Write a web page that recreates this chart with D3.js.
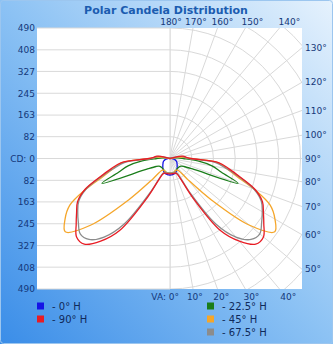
<!DOCTYPE html>
<html>
<head>
<meta charset="utf-8">
<script src="https://cdn.jsdelivr.net/npm/d3@7/dist/d3.min.js"></script>
<style>
  html, body { margin: 0; padding: 0; background: #fff; }
  svg { display: block; }
  text { font-family: "DejaVu Sans", Verdana, sans-serif; }
</style>
</head>
<body>
<div id="chart"></div>
<script>
// ---------------- data ----------------
const title = "Polar Candela Distribution";
const vaAngles = [0,5,10,15,20,25,30,35,40,45,50,55,60,65,70,75,80,85,90,95,100,105,110,115,120,125,130,135,140,145,150,155,160,165,170,175,180];
const seriesNames = ["- 0° H", "- 90° H", "- 22.5° H", "- 45° H", "- 67.5° H"];
const seriesColors = ["#1414e6", "#e81c24", "#1a7d1a", "#f5a62a", "#8c8c8c"];
const cd0H   = [62,62,61,60,58,55,50,46,42,38,35,32,30,27,24,20,16,12,8,5,3,0,0,0,0,0,0,0,0,0,0,0,0,0,0,0,0];
const cd90H  = [58,58,58,58,58,65,165,330,405,455,458,430,405,383,340,275,225,185,80,60,50,10,0,0,0,0,0,0,0,0,0,0,0,0,0,0,0];
const cd225H = [55,55,55,54,52,50,48,47,46,46,47,50,60,90,272,200,160,105,50,30,15,0,0,0,0,0,0,0,0,0,0,0,0,0,0,0,0];
const cd45H  = [55,55,55,54,52,50,50,55,100,220,390,480,455,415,335,260,215,180,75,50,25,0,0,0,0,0,0,0,0,0,0,0,0,0,0,0,0];
const cd675H = [55,55,55,55,55,60,140,300,385,430,440,420,400,378,335,270,215,170,70,55,45,10,0,0,0,0,0,0,0,0,0,0,0,0,0,0,0];
const cdTicks = [82,163,245,327,408,490];
const cdMax = 490;
const topAngleLabels = [180,170,160,150,140];
const sideAngleLabels = [130,120,110,100,90,80,70,60,50];
const bottomAngleLabels = [0,10,20,30,40];
const gridAngles = [0,10,20,30,40,50,60,70,80,90,100,110,120,130,140,150,160,170,180];
const gridCircles = [82,163,245,327,408,490,572,653,735];

// ---------------- layout ----------------
const W = 333, H = 344;
const plot = {x0: 37, x1: 302, y0: 28, y1: 289};
const cx = 170, cy = 158.5;
const R = (plot.y1 - plot.y0) / 2;

const svg = d3.select("#chart").append("svg").attr("width", W).attr("height", H);
const defs = svg.append("defs");
const grad = defs.append("linearGradient").attr("id", "bg")
  .attr("x1", 0).attr("y1", 1).attr("x2", 1).attr("y2", 0);
grad.append("stop").attr("offset", "0%").attr("stop-color", "#3a8de8");
grad.append("stop").attr("offset", "50%").attr("stop-color", "#8cc2f4");
grad.append("stop").attr("offset", "100%").attr("stop-color", "#e6f2fd");

svg.append("rect").attr("x", 0).attr("y", 0).attr("width", W).attr("height", H).attr("fill", "url(#bg)");
svg.append("rect").attr("x", 0.5).attr("y", 0.5).attr("width", W - 1).attr("height", H - 1)
  .attr("rx", 3).attr("fill", "none").attr("stroke", "#9cc6ef").attr("stroke-width", 1);

svg.append("clipPath").attr("id", "plotClip").append("rect")
  .attr("x", plot.x0).attr("y", plot.y0).attr("width", plot.x1 - plot.x0).attr("height", plot.y1 - plot.y0);
svg.append("clipPath").attr("id", "rightClip").append("rect")
  .attr("x", cx).attr("y", plot.y0).attr("width", plot.x1 - cx).attr("height", plot.y1 - plot.y0);

svg.append("rect").attr("x", plot.x0).attr("y", plot.y0)
  .attr("width", plot.x1 - plot.x0).attr("height", plot.y1 - plot.y0).attr("fill", "#ffffff");

const rScale = d3.scaleLinear().domain([0, cdMax]).range([0, R]);
const yScale = d3.scaleLinear().domain([-cdMax, cdMax]).range([plot.y1, plot.y0]);
const rad = d => d * Math.PI / 180;
const px = (a, r) => cx + rScale(r) * Math.sin(rad(a));
const py = (a, r) => cy + rScale(r) * Math.cos(rad(a));

const gridColor = "#d9d9d9";
const grid = svg.append("g");
grid.selectAll("line.h").data([...cdTicks.map(v => -v), 0, ...cdTicks]).join("line")
  .attr("x1", plot.x0).attr("x2", cx)
  .attr("y1", d => yScale(d)).attr("y2", d => yScale(d))
  .attr("stroke", gridColor).attr("stroke-width", 1);
const rg = grid.append("g").attr("clip-path", "url(#rightClip)");
rg.selectAll("circle").data(gridCircles).join("circle")
  .attr("cx", cx).attr("cy", cy).attr("r", d => rScale(d))
  .attr("fill", "none").attr("stroke", gridColor).attr("stroke-width", 1);
rg.selectAll("line").data(gridAngles).join("line")
  .attr("x1", cx).attr("y1", cy)
  .attr("x2", d => px(d, 1200)).attr("y2", d => py(d, 1200))
  .attr("stroke", gridColor).attr("stroke-width", 1);
grid.append("line").attr("x1", cx).attr("x2", cx).attr("y1", plot.y0).attr("y2", plot.y1)
  .attr("stroke", gridColor).attr("stroke-width", 1);

// ---------------- curves ----------------
const allSeries = [cd0H, cd90H, cd225H, cd45H, cd675H];
const drawOrder = [0, 2, 3, 4, 1];
const line = d3.line().x(d => d[0]).y(d => d[1]).curve(d3.curveCatmullRomClosed.alpha(0.5));
const curves = svg.append("g").attr("clip-path", "url(#plotClip)");
drawOrder.forEach(i => {
  const vals = allSeries[i];
  const pts = [];
  vaAngles.forEach((a, k) => pts.push([px(a, vals[k]), py(a, vals[k])]));
  for (let k = vaAngles.length - 1; k >= 0; k--) {
    const a = vaAngles[k];
    pts.push([2 * cx - px(a, vals[k]), py(a, vals[k])]);
  }
  const clean = pts.filter((p, j) => j === 0 || Math.abs(p[0] - pts[j-1][0]) > 0.01 || Math.abs(p[1] - pts[j-1][1]) > 0.01);
  curves.append("path").attr("d", line(clean))
    .attr("fill", "none").attr("stroke", seriesColors[i]).attr("stroke-width", 1.3)
    .attr("stroke-linejoin", "round");
});

// ---------------- labels ----------------
const labelColor = "#14387a";
svg.append("text").attr("x", 166).attr("y", 14).attr("text-anchor", "middle")
  .attr("font-size", 11).attr("font-weight", "bold").attr("fill", "#1b5cb0").text(title);

const yAxis = d3.axisLeft(yScale)
  .tickValues([...cdTicks.map(v => -v), 0, ...cdTicks])
  .tickSize(0).tickPadding(0)
  .tickFormat(d => d === 0 ? "CD: 0" : String(Math.abs(d)));
const ya = svg.append("g").attr("transform", `translate(${plot.x0 - 2},0)`).call(yAxis);
ya.select(".domain").remove();
ya.selectAll("text").attr("font-size", 9).attr("fill", labelColor)
  .attr("font-family", "DejaVu Sans, sans-serif");

const dTop = 141;
svg.selectAll("text.top").data(topAngleLabels).join("text")
  .attr("x", d => cx + 1 - dTop * Math.tan(rad(d)))
  .attr("y", 25).attr("text-anchor", "middle")
  .attr("font-size", 9).attr("fill", labelColor).text(d => d + "°");
svg.selectAll("text.bot").data(bottomAngleLabels).join("text")
  .attr("x", d => d === 0 ? cx + 9 : cx + dTop * Math.tan(rad(d)))
  .attr("y", 300).attr("text-anchor", d => d === 0 ? "end" : "middle")
  .attr("font-size", 9).attr("fill", labelColor).text(d => d === 0 ? "VA: 0°" : d + "°");
const dSide = plot.x1 - cx;
svg.selectAll("text.side").data(sideAngleLabels).join("text")
  .attr("x", plot.x1 + 3)
  .attr("y", d => cy + dSide * Math.cos(rad(d)) / Math.sin(rad(d)))
  .attr("dy", "0.35em")
  .attr("font-size", 9).attr("fill", labelColor).text(d => d + "°");

// ---------------- legend ----------------
const legendPos = [[37, 306], [37, 319], [207, 306], [207, 319], [207, 332]];
const lg = svg.append("g");
seriesNames.forEach((name, i) => {
  const [lx, ly] = legendPos[i];
  lg.append("rect").attr("x", lx).attr("y", ly - 3.5).attr("width", 7).attr("height", 7)
    .attr("fill", seriesColors[i]);
  lg.append("text").attr("x", lx + 15).attr("y", ly).attr("dy", "0.36em")
    .attr("font-size", 10).attr("fill", "#102a5a").text(name);
});
</script>
</body>
</html>
